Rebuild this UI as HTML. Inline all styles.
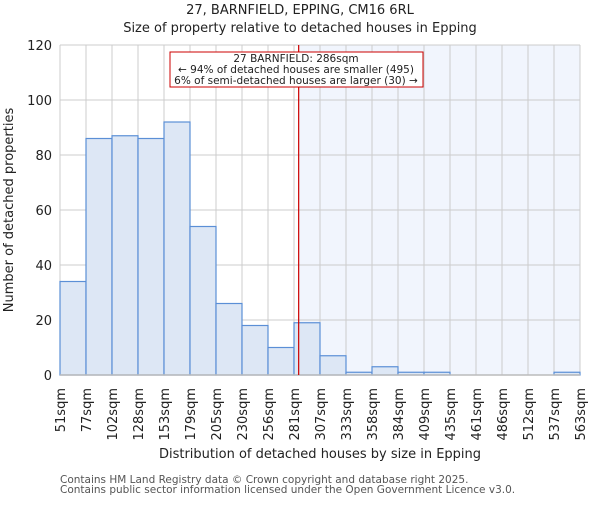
<!DOCTYPE html>
<html><head><meta charset="utf-8"><style>body{margin:0;background:#fff}svg text{font-family:"DejaVu Sans","Liberation Sans",sans-serif}</style></head>
<body>
<svg id="chart" width="600" height="500" xmlns="http://www.w3.org/2000/svg"></svg>
<script>
const binLabels=["51sqm","77sqm","102sqm","128sqm","153sqm","179sqm","205sqm","230sqm","256sqm","281sqm","307sqm","333sqm","358sqm","384sqm","409sqm","435sqm","461sqm","486sqm","512sqm","537sqm","563sqm"];
const counts=[34,86,87,86,92,54,26,18,10,19,7,1,3,1,1,0,0,0,0,1];
const yTicks=[0,20,40,60,80,100,120];
const binStart=51, binStep=25.6, marker=286;
const svg=document.getElementById('chart');
const NS='http://www.w3.org/2000/svg';
const L=60,R=580,T=45,B=375,yMax=120;
const xs=v=>L+(v-binStart)/(binStep*counts.length)*(R-L);
const ys=v=>B-v/yMax*(B-T);
function mk(t,a,p){const e=document.createElementNS(NS,t);for(const k in a)e.setAttribute(k,a[k]);(p||svg).appendChild(e);return e;}
let e;
e=mk('rect',{x:xs(marker),y:T,width:R-xs(marker),height:B-T,fill:'#f1f5fd'});


for(let i=0;i<=counts.length;i++){e=mk('line',{x1:L+i*(R-L)/counts.length,x2:L+i*(R-L)/counts.length,y1:T,y2:B,stroke:'#cccccc'});

}
yTicks.forEach(v=>{e=mk('line',{x1:L,x2:R,y1:ys(v),y2:ys(v),stroke:'#cccccc'});


e=mk('text',{x:L-8,y:ys(v)+5,'text-anchor':'end','font-size':13,fill:'#222'});e.textContent=v;

});
counts.forEach((c,i)=>{const x0=L+i*(R-L)/counts.length,w=(R-L)/counts.length;
e=mk('rect',{x:x0,y:ys(c),width:w,height:B-ys(c),fill:'#dde7f5',stroke:'#5b8fd6','stroke-width':1.2});

});
binLabels.forEach((lab,i)=>{const x=L+i*(R-L)/counts.length;
e=mk('text',{x:0,y:0,'text-anchor':'end','font-size':13,fill:'#222',transform:`translate(${x+5},${B+13}) rotate(-90)`});e.textContent=lab;

});
e=mk('line',{x1:L,x2:R,y1:B,y2:B,stroke:'#bbb','stroke-width':1.5});


e=mk('line',{x1:xs(marker),x2:xs(marker),y1:T,y2:B,stroke:'#cc0000','stroke-width':1.2});


e=mk('rect',{x:170,y:52,width:253,height:35,fill:'#fff',stroke:'#cc0000','stroke-width':1});


[["27 BARNFIELD: 286sqm",62],["← 94% of detached houses are smaller (495)",73],["6% of semi-detached houses are larger (30) →",84]].forEach(([t,y])=>{
e=mk('text',{x:296,y:y,'text-anchor':'middle','font-size':10.5,fill:'#222'});e.textContent=t;

});
[["27, BARNFIELD, EPPING, CM16 6RL",14,'chart-title'],["Size of property relative to detached houses in Epping",32,'chart-subtitle']].forEach(([t,y,n])=>{
e=mk('text',{x:300,y:y,'text-anchor':'middle','font-size':13,fill:'#222'});e.textContent=t;

});
e=mk('text',{x:320,y:458,'text-anchor':'middle','font-size':13,fill:'#222'});e.textContent="Distribution of detached houses by size in Epping";


e=mk('text',{x:0,y:0,'text-anchor':'middle','font-size':13,fill:'#222',transform:'translate(13,210) rotate(-90)'});e.textContent="Number of detached properties";


[["Contains HM Land Registry data © Crown copyright and database right 2025.",483],["Contains public sector information licensed under the Open Government Licence v3.0.",493]].forEach(([t,y])=>{
e=mk('text',{x:60,y:y,'font-size':10.5,fill:'#555'});e.textContent=t;

});
</script>
</body></html>
